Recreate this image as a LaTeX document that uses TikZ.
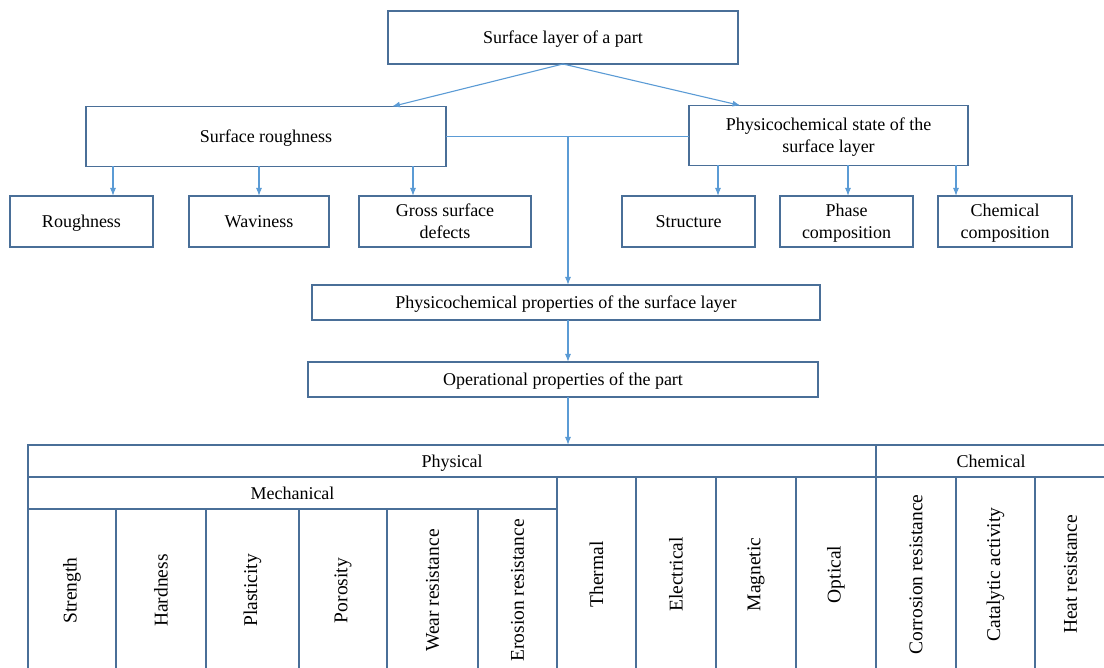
\documentclass[tikz,border=0pt]{standalone}
\usepackage{fontspec}
\setmainfont{Liberation Serif}
\usepackage{tikz}
\usetikzlibrary{arrows.meta,calc}
\definecolor{boxline}{HTML}{4A6F98}
\definecolor{arrowline}{HTML}{5B9BD5}

\begin{document}
\begin{tikzpicture}[x=1pt, y=-1pt,
    font=\fontsize{18}{22}\selectfont,
    arr/.style={draw=arrowline, line width=1.1pt, -{Latex[length=8pt,width=6pt]}},
    cell/.style={draw=boxline, line width=1.4pt, inner sep=0pt, outer sep=0pt}]
  \useasboundingbox (0,0) rectangle (1104,668);

  {\tikzstyle{every node}=[draw=boxline, line width=1.2pt, align=center, inner sep=0pt, outer sep=0pt, text depth=0pt]
    \node[minimum width=350, minimum height=53] (layer) at (563,37.5) {Surface layer of a part};
    \node[minimum width=360, minimum height=60] (rough) at (266,136.5) {Surface roughness};
    \node[minimum width=279, minimum height=60] (state) at (828.5,135.5) {Physicochemical state of the\\surface layer};

    \foreach \name/\cx/\w/\lbl in {roughness/81.5/143/Roughness, waviness/259/140/Waviness,
        gross/445/172/Gross surface\\defects, structure/688.5/133/Structure,
        phase/846.5/133/Phase\\composition, chemcomp/1005/134/Chemical\\composition}
    {
      \node[minimum width=\w, minimum height=51] (\name) at (\cx,221.5) {\lbl};
    }

    \node[minimum width=508, minimum height=35] (props) at (566,302.5) {Physicochemical properties of the surface layer};
    \node[minimum width=510, minimum height=35] (oper) at (563,379.5) {Operational properties of the part};
  }

  % table of properties
  \node[cell, text depth=0pt, minimum width=848, minimum height=32] (physical) at (452,461) {Physical};
  \node[cell, text depth=0pt, minimum width=230, minimum height=32] (chemical) at (991,461) {Chemical};
  \node[cell, text depth=0pt, minimum width=529, minimum height=32] (mechanical) at (292.5,493) {Mechanical};

  \foreach \name/\xa/\xb/\lbl in {strength/28/116/Strength, hardness/116/206/Hardness,
      plasticity/206/299/Plasticity, porosity/299/387/Porosity,
      wear/387/478/Wear resistance, erosion/478/557/Erosion resistance}
  {
    \node[cell, rotate=90, minimum width=163, minimum height={\xb-\xa},
      font=\fontsize{19.5}{22}\selectfont] (\name) at ({(\xa+\xb)/2},590.5) {\lbl};
  }
  \foreach \name/\xa/\xb/\lbl in {thermal/557/636/Thermal, electrical/636/716/Electrical,
      magnetic/716/796/Magnetic, optical/796/876/Optical,
      corrosion/876/956/Corrosion resistance, catalytic/956/1035/Catalytic activity,
      heat/1035/1106/Heat resistance}
  {
    \node[cell, rotate=90, minimum width=195, minimum height={\xb-\xa},
      font=\fontsize{19.5}{22}\selectfont] (\name) at ({(\xa+\xb)/2},574.5) {\lbl};
  }

  % connectors
  \coordinate (j1) at ($(rough.north)+(126,0)$);
  \coordinate (j2) at ($(state.north)+(-88,0)$);
  \coordinate (down) at ($(props.north)+(2,0)$);
  \draw[arr] (layer.south) -- (j1);
  \draw[arr] (layer.south) -- (j2);
  \draw[draw=arrowline, line width=1.1pt] (rough.east) -- (rough.east -| state.west);
  \draw[arr] (down |- rough.east) -- (down);

  \coordinate (r1) at ($(roughness.north)+(31.5,0)$);
  \coordinate (r3) at ($(gross.north)+(-32,0)$);
  \coordinate (s1) at ($(structure.north)+(29.5,0)$);
  \coordinate (s2) at ($(phase.north)+(1.5,0)$);
  \coordinate (s3) at ($(chemcomp.north)+(-49,0)$);
  \draw[arr] (rough.south -| r1) -- (r1);
  \draw[arr] (rough.south -| waviness.north) -- (waviness.north);
  \draw[arr] (rough.south -| r3) -- (r3);
  \draw[arr] (state.south -| s1) -- (s1);
  \draw[arr] (state.south -| s2) -- (s2);
  \draw[arr] (state.south -| s3) -- (s3);

  \draw[arr] (down |- props.south) -- (down |- oper.north);
  \draw[arr] (down |- oper.south) -- (down |- physical.north);
\end{tikzpicture}
\end{document}
